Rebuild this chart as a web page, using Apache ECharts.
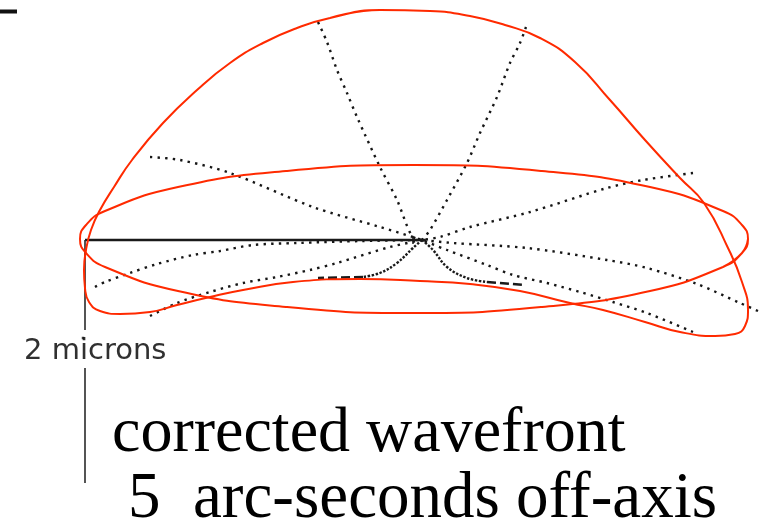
<!DOCTYPE html>
<html>
<head>
<meta charset="utf-8">
<script src="https://cdn.jsdelivr.net/npm/echarts@6/dist/echarts.min.js"></script>
<style>
html, body { margin: 0; padding: 0; background: #ffffff; }
#chart { width: 762px; height: 527px; }
</style>
</head>
<body>
<div id="chart"></div>
<script>
// Plot units: origin at the centre of the wavefront, x to the right, y upwards.

// Dotted profile rays through the wavefront
const rayUpLeft    = [[-104,218],[-95,198],[-85,170],[-75,147],[-65,123],[-42,73],[-25,40],[-10,4],[0,0]];
const rayUpRight   = [[104,213],[98,197],[88,177],[75,143],[58,107],[45,77],[25,40],[8,10],[0,0]];
const rayLeftHigh  = [[-272,83],[-242,80],[-192,67],[-109,33],[-42,13],[-9,3],[0,0]];
const rayRightHigh = [[271,67],[221,60],[185,52],[108,28],[48,13],[18,3],[0,0]];
const rayRightMid  = [[336,-71],[318,-63],[275,-44],[225,-28],[185,-20],[105,-8],[31,-3],[0,0]];
const rayRightLow  = [[271,-92],[225,-73],[191,-62],[158,-52],[125,-43],[91,-35],[65,-25],[25,-10],[0,0]];
const rayLeftLow   = [[-272,-76],[-245,-63],[-212,-52],[-179,-43],[-145,-37],[-112,-30],[-85,-23],[-32,-7],[0,0]];
const rayLeftMid   = [[-327,-47],[-317,-42],[-292,-33],[-265,-24],[-229,-15],[-202,-11],[-169,-5],[-125,-3],[-60,-1],[0,0]];
const strayDot     = [[-339,-98]];

// Dashed central cross-section
const dashRightCurve = [[0,0],[11,-10],[25,-27],[45,-38],[65,-42]];
const dashRightFlat  = [[65,-42],[103,-45]];
const dashLeftCurve  = [[0,0],[-9,-8],[-25,-23],[-42,-33],[-59,-37]];
const dashLeftFlat   = [[-59,-37],[-104,-38]];

// Reference axes and 2-micron scale bar
const axisHorizontal = [[-337,0],[3,0]];
const centreTick     = [[-9,4],[-9,-4]];
const scaleBarTop    = [[-337,0],[-337,-90]];
const scaleBarBottom = [[-337,-128],[-337,-243]];
const cornerMark     = [[-422,228.5],[-405,228.5]];

// Red outlines: wavefront envelope (dome) and rim ellipse
const domeOutline = [
  [-92,222],[-42,230],[8,229],[48,224],[83,215],[118,202],[153,178],[188,140],[223,100],
  [258,62],[282,37],[306,-8],[320,-42],[326,-70],[323,-86],[313,-94],[293,-96],
  [258,-92],[223,-82],[181,-70],[148,-63],[98,-51],[48,-44],[-2,-41],[-62,-39],[-129,-42],
  [-179,-50],[-212,-57],[-245,-65],[-272,-72],[-302,-74],[-322,-71],[-333,-62],[-337,-48],
  [-338,-30],[-336,-10],[-331,10],[-322,30],[-308,53],[-290,80],[-259,117],[-225,150],
  [-192,177],[-159,197],[-125,212],[-92,222],[-42,230],[8,229]
];
const rimEllipse = [
  [301,-27],[320,-13],[326,1],[320,15],[301,29],[228,53],[120,69],[-8,75],[-136,69],[-244,53],
  [-317,29],[-336,15],[-342,1],[-336,-13],[-317,-27],[-244,-51],[-136,-67],[-8,-73],
  [120,-67],[228,-51],[301,-27],[320,-13],[326,1]
];

// Text
const scaleLabel = '2 microns';
const captionLine1 = 'corrected wavefront';
const captionLine2 = '5  arc-seconds off-axis';

const chart = echarts.init(document.getElementById('chart'), null, { renderer: 'canvas' });

function path(data, color, width, type, smooth, z) {
  return {
    type: 'line',
    data: data,
    showSymbol: false,
    symbol: 'none',
    smooth: smooth,
    silent: true,
    z: z,
    lineStyle: { color: color, width: width, type: type, cap: 'butt' }
  };
}

const DOT = [2.4, 5.2];
const dotColor = '#161616';

chart.setOption({
  animation: false,
  backgroundColor: '#ffffff',
  grid: { left: 0, right: 0, top: 0, bottom: 0 },
  xAxis: { type: 'value', min: -422, max: 340, show: false },
  yAxis: { type: 'value', min: -287, max: 240, show: false },
  series: [
    path(rayUpLeft, dotColor, 2.4, DOT, 0.3, 2),
    path(rayUpRight, dotColor, 2.4, DOT, 0.3, 2),
    path(rayLeftHigh, dotColor, 2.4, DOT, 0.3, 2),
    path(rayRightHigh, dotColor, 2.4, DOT, 0.3, 2),
    path(rayRightMid, dotColor, 2.4, DOT, 0.3, 2),
    path(rayRightLow, dotColor, 2.4, DOT, 0.3, 2),
    path(rayLeftLow, dotColor, 2.4, DOT, 0.3, 2),
    path(rayLeftMid, dotColor, 2.4, DOT, 0.3, 2),
    {
      type: 'scatter', data: strayDot, symbol: 'rect', symbolSize: 2.5,
      itemStyle: { color: dotColor }, silent: true, z: 2
    },
    path(dashRightCurve, '#1a1a1a', 2.4, [2.4, 1.6], 0.4, 3),
    path(dashRightFlat, '#1a1a1a', 2.6, [9, 4], false, 3),
    path(dashLeftCurve, '#1a1a1a', 2.4, [2.4, 1.6], 0.4, 3),
    path(dashLeftFlat, '#1a1a1a', 2.6, [9, 4], false, 3),
    path(axisHorizontal, '#1a1a1a', 2.5, 'solid', false, 4),
    path(centreTick, '#1a1a1a', 1.5, 'solid', false, 4),
    path(scaleBarTop, '#2a2a2a', 1.6, 'solid', false, 4),
    path(scaleBarBottom, '#2a2a2a', 1.6, 'solid', false, 4),
    path(cornerMark, '#111', 4, 'solid', false, 4),
    path(domeOutline, '#ff2a00', 2, 'solid', 0.5, 5),
    path(rimEllipse, '#ff2a00', 2, 'solid', 0.5, 5)
  ],
  graphic: [
    {
      type: 'text', x: 24, y: 351, silent: true,
      style: { text: scaleLabel, font: '29px "DejaVu Sans"', fill: '#303030', verticalAlign: 'middle' }
    },
    {
      type: 'text', x: 112, y: 466.5, silent: true,
      style: { text: captionLine1, font: '64px "Liberation Serif"', fill: '#000', verticalAlign: 'bottom' }
    },
    {
      type: 'text', x: 128, y: 532, silent: true,
      style: { text: captionLine2, font: '65px "Liberation Serif"', fill: '#000', verticalAlign: 'bottom' }
    }
  ]
});
</script>
</body>
</html>
